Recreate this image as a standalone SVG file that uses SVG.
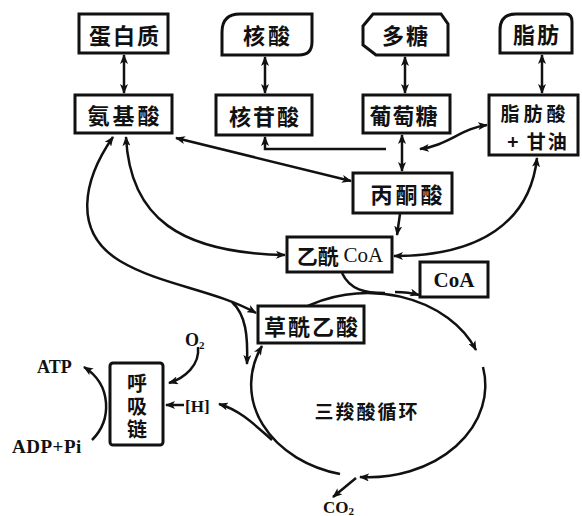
<svg xmlns="http://www.w3.org/2000/svg" width="582" height="516" viewBox="0 0 582 516">
<defs>
<marker id="ah" viewBox="0 0 10 8" refX="9" refY="4" markerWidth="10" markerHeight="8" markerUnits="userSpaceOnUse" orient="auto-start-reverse">
<path d="M0,0 L10,4 L0,8 L2.5,4 Z" fill="#111"/>
</marker>
</defs>
<style>
.box{fill:#fff;stroke:#111;stroke-width:3}
.cn{font-family:"Noto Sans CJK SC","Noto Sans CJK TC",sans-serif;font-weight:700;fill:#111;text-anchor:middle;dominant-baseline:central}
.en{font-family:"Liberation Serif",serif;font-weight:700;fill:#111}
.ln{fill:none;stroke:#111;stroke-width:2.5}
.both{marker-start:url(#ah);marker-end:url(#ah)}
.end{marker-end:url(#ah)}
</style>
<rect width="582" height="516" fill="#fff"/>
<g id="connectors">
<path class="ln both" d="M124,55 L124,93"/>
<path class="ln both" d="M265,57 L265,93"/>
<path class="ln both" d="M405,57 L405,93"/>
<path class="ln both" d="M542,55 L542,93"/>
<path class="ln end" d="M386,149 L265,149 L265,137"/>
<path class="ln both" d="M402,135 L402,171"/>
<path class="ln both" d="M176,138 L351,181"/>
<path class="ln both" d="M487,125 C462,128 447,146 420,149"/>
<path class="ln end" d="M400,214 L397,235"/>
<path class="ln both" d="M537,158 C530,222 480,256 394,256"/>
<path class="ln both" d="M126,137 C130,218 180,253 285,255"/>
<path class="ln both" d="M113,137 C83,180 72,232 120,261 C160,285 215,290 256,313"/>
<path class="ln end" d="M232,302 C246,315 248,336 247,364"/>
<path class="ln" d="M342,273 C350,290 365,293 385,293"/>
<path class="ln end" d="M395,292 C405,292 412,293 419,295"/>
<path class="ln end" d="M300,310 A117,92 0 0 1 476,350"/>
<path class="ln end" d="M483,367 A117,92 0 0 1 360,477"/>
<path class="ln end" d="M340,474 A117,92 0 0 1 262,346"/>
<path class="ln end" d="M356,478 L333,497"/>
<path class="ln end" d="M272,440 C255,425 240,410 219,404"/>
<path class="ln end" d="M184,405 L166,405"/>
<path class="ln end" d="M198,347 C200,365 185,378 169,383"/>
<path class="ln end" d="M92,440 C112,420 112,385 84,367"/>
</g>
<g id="n-protein"><rect class="box" x="79" y="14" width="89" height="39"/><text class="cn" x="125" y="34" font-size="22" letter-spacing="2">蛋白质</text></g>
<g id="n-nucleic"><path class="box" d="M222,55 L222,32 Q222,14 240,14 L312,14 L312,42 Q312,55 299,55 Z"/><text class="cn" x="268" y="34" font-size="22" letter-spacing="3">核酸</text></g>
<g id="n-poly"><path class="box" d="M363,26 L373,14 L441,14 L448,24 L448,55 L376,55 L363,45 Z"/><text class="cn" x="406" y="34" font-size="22" letter-spacing="2">多糖</text></g>
<g id="n-fat"><path class="box" d="M500,53 L500,30 Q500,14 516,14 L566,14 Q572,14 572,22 L572,53 Z"/><text class="cn" x="537" y="33" font-size="22" letter-spacing="2">脂肪</text></g>
<g id="n-amino"><rect class="box" x="75" y="95" width="97" height="38"/><text class="cn" x="125" y="114" font-size="22" letter-spacing="3">氨基酸</text></g>
<g id="n-nucleotide"><rect class="box" x="216" y="95" width="96" height="40"/><text class="cn" x="265" y="115" font-size="22" letter-spacing="2">核苷酸</text></g>
<g id="n-glucose"><rect class="box" x="363" y="95" width="87" height="38"/><text class="cn" x="404" y="114" font-size="22" letter-spacing="1">葡萄糖</text></g>
<g id="n-fattyacid"><rect class="box" x="489" y="95" width="89" height="60"/><text class="cn" x="535" y="112" font-size="19" letter-spacing="4">脂肪酸</text><text class="cn" x="538" y="140" font-size="19" letter-spacing="2">+ 甘油</text></g>
<g id="n-pyruvate"><rect class="box" x="353" y="173" width="99" height="40"/><text class="cn" x="408" y="193" font-size="22" letter-spacing="3">丙酮酸</text></g>
<g id="n-acetylcoa"><rect class="box" x="287" y="237" width="105" height="35"/><text class="cn" x="340" y="255" font-size="21">乙酰 <tspan font-family="Liberation Serif,serif" font-weight="400">CoA</tspan></text></g>
<g id="n-coa"><rect class="box" x="420" y="262" width="68" height="35"/><text class="en" x="454" y="287" font-size="21" font-weight="400" text-anchor="middle">CoA</text></g>
<g id="n-oxaloacetate"><rect class="box" x="258" y="306" width="106" height="37"/><text class="cn" x="312" y="325" font-size="22" letter-spacing="2">草酰乙酸</text></g>
<g id="n-chain"><rect class="box" x="110" y="363" width="53" height="82" rx="3"/><text class="cn" x="137" y="373" font-size="20" writing-mode="tb" letter-spacing="3" style="text-anchor:start">呼吸链</text></g>
<g id="labels">
<text class="cn" x="367" y="410" font-size="19" letter-spacing="2">三羧酸循环</text>
<text class="en" x="37" y="373" font-size="18">ATP</text>
<text class="en" x="12" y="453" font-size="19" letter-spacing="0.5">ADP+Pi</text>
<text class="en" x="185" y="346" font-size="18" font-weight="400">O<tspan font-size="11" dy="3">2</tspan></text>
<text class="en" x="185" y="412" font-size="17" font-weight="400">[H]</text>
<text class="en" x="323" y="513" font-size="17" font-weight="400">CO<tspan font-size="11" dy="2">2</tspan></text>
</g>
</svg>
